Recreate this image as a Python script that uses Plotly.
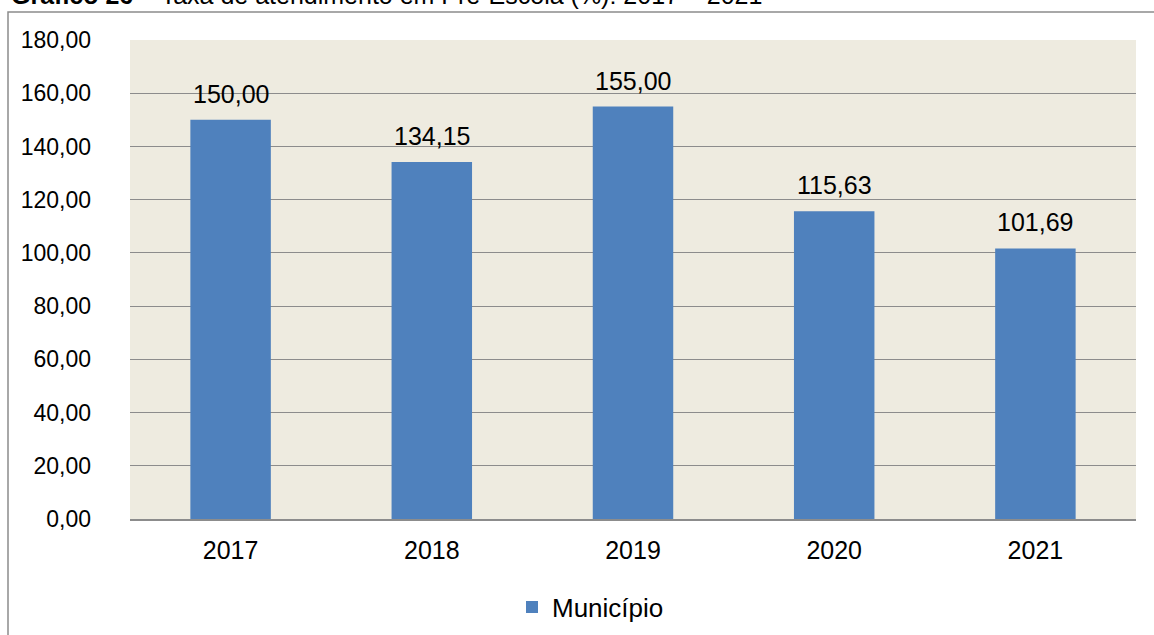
import plotly.graph_objects as go

anos = ["2017", "2018", "2019", "2020", "2021"]
valores = [150.00, 134.15, 155.00, 115.63, 101.69]
serie = "Município"
titulo_bold = "Gráfico 26"
titulo_resto = " – Taxa de atendimento em Pré-Escola (%): 2017 – 2021"

W, H = 1154, 635
L, R, T, B = 130, 18, 40, 116
FONT = "Liberation Sans, Arial"

fig = go.Figure()
fig.add_trace(go.Bar(
    x=anos, y=valores, name=serie,
    marker=dict(color="#4F81BD", line=dict(width=0)),
))

pw = W - L - R
ph = H - T - B

def px_x(x):
    return (x - L) / pw

def px_y(y):
    return (H - B - y) / ph

annotations = [dict(xref="paper", yref="paper", x=px_x(9), y=px_y(-5),
                    xanchor="left", yanchor="middle", showarrow=False,
                    text=f"<b>{titulo_bold}</b>{titulo_resto}",
                    font=dict(family=FONT, size=25, color="#000000"))]
for i, v in enumerate(valores):
    # category axis: annotation x is the category's serial index
    annotations.append(dict(x=i, y=v, xref="x", yref="y", xanchor="center",
                            yanchor="bottom", yshift=10, showarrow=False,
                            text=f"{v:.2f}".replace(".", ","),
                            font=dict(family=FONT, size=25, color="#000000")))

fig.update_layout(
    width=W, height=H,
    margin=dict(l=L, r=R, t=T, b=B, autoexpand=False),
    paper_bgcolor="white",
    plot_bgcolor="#EEEBE0",
    bargap=0.6,
    separators=",.",
    font=dict(family=FONT, size=23, color="#000000"),
    showlegend=True,
    legend=dict(orientation="h", x=px_x(512), xanchor="left", y=px_y(607), yanchor="middle",
                font=dict(family=FONT, size=26), itemwidth=30),
    xaxis=dict(type="category", showgrid=False, showline=True, linecolor="#8C8C8C",
               linewidth=1.5, ticks="", tickfont=dict(size=25), ticklabelstandoff=8),
    yaxis=dict(range=[0, 180], dtick=20, tickformat=".2f", showgrid=True,
               gridcolor="#8C8C8C", gridwidth=1.2, zeroline=False, showline=False,
               ticks="", ticklabelstandoff=38, tickfont=dict(size=23)),
    shapes=[dict(type="rect", xref="paper", yref="paper",
                 x0=px_x(8), x1=px_x(1200), y0=px_y(12), y1=px_y(700),
                 line=dict(color="#8C8C8C", width=1.5), fillcolor="rgba(0,0,0,0)",
                 layer="below")],
    annotations=annotations,
)

fig.write_html("out.html", config={"displayModeBar": False},
               post_script="document.body.style.margin='0';document.body.style.overflow='hidden';")
